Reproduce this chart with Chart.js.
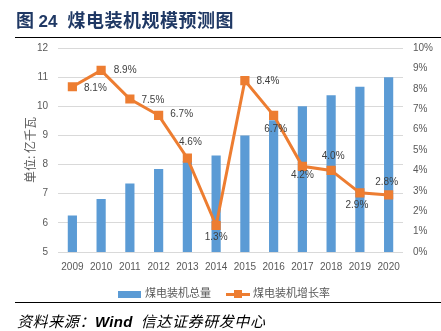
<!DOCTYPE html>
<html>
<head>
<meta charset="utf-8">
<script src="https://cdn.jsdelivr.net/npm/chart.js@4/dist/chart.umd.min.js"></script>
<style>
    html, body { margin: 0; padding: 0; background: #fff; }
    #wrap { position: relative; width: 441px; height: 331px; overflow: hidden; }
    #chart { position: absolute; left: 0; top: 0; }
    .title { position: absolute; left: 16px; top: 6px; font: bold 18px "Noto Sans CJK SC", sans-serif; color: #1f3864; letter-spacing: 0.5px; white-space: nowrap; }
    .title b { font-family: "Liberation Sans", sans-serif; font-size: 17px; letter-spacing: 0; margin: 0 10px 0 4px; }
    .rule { position: absolute; left: 15px; right: 0; height: 0; border-top: 1.5px solid #000; }
    .legend { position: absolute; top: 284px; font: 11px "Noto Sans CJK SC", sans-serif; color: #595959; white-space: nowrap; }
    .legend .bar { display: inline-block; width: 23px; height: 7px; background: #5b9bd5; vertical-align: middle; margin-right: 4px; }
    .legend .line { display: inline-block; position: relative; width: 24px; height: 3px; background: #ed7d31; vertical-align: middle; margin-right: 3px; }
    .legend .line i { position: absolute; left: 8px; top: -3px; width: 8px; height: 8px; background: #ed7d31; }
    .source { position: absolute; left: 17px; top: 310px; font: italic 15px "Noto Sans CJK SC", sans-serif; color: #000; letter-spacing: 0.6px; white-space: nowrap; }
    .source b { font-family: "Liberation Sans", sans-serif; font-weight: bold; letter-spacing: 0.3px; margin-right: 8px; }
</style>
</head>
<body>
<div id="wrap">
    <canvas id="chart" width="441" height="331"></canvas>
    <div class="title">图<b>24</b>煤电装机规模预测图</div>
    <div class="rule" style="top: 37px;"></div>
    <div class="legend" style="left: 118px;"><span class="bar"></span>煤电装机总量</div>
    <div class="legend" style="left: 226px;"><span class="line"><i></i></span>煤电装机增长率</div>
    <div class="rule" style="top: 302px; border-top-width: 1.3px;"></div>
    <div class="source">资料来源：<b>Wind</b>信达证券研发中心</div>
</div>
<script>
    const YEARS = ['2009', '2010', '2011', '2012', '2013', '2014', '2015', '2016', '2017', '2018', '2019', '2020'];
    // 装机总量（亿千瓦）
    const CAPACITY = [6.25, 6.82, 7.35, 7.85, 8.12, 8.31, 9.0, 9.52, 10.0, 10.38, 10.67, 11.0];
    // 装机增长率（%）
    const GROWTH = [8.1, 8.9, 7.5, 6.7, 4.6, 1.3, 8.4, 6.7, 4.2, 4.0, 2.9, 2.8];

    const CAPACITY_MIN = 5;
    const CAPACITY_MAX = 12;
    const GROWTH_MIN = 0;
    const GROWTH_MAX = 10;

    const BLUE = '#5b9bd5';
    const ORANGE = '#ed7d31';
    const GREY = '#595959';

    // where each growth label sits relative to its marker
    const LABEL_OFFSETS = [
        [23, 1], [24, 0], [23, 1], [23, -1], [3, -16], [0, 12],
        [23, 1], [2, 14], [0, 9], [2, -14], [-3, 12], [-2, -13],
    ];

    const growthLabels = {
        id: 'growthLabels',
        afterDatasetsDraw(chart) {
            const meta = chart.getDatasetMeta(1);
            const ctx = chart.ctx;
            ctx.save();
            ctx.font = '10px "Liberation Sans", sans-serif';
            ctx.fillStyle = '#404040';
            ctx.textAlign = 'center';
            ctx.textBaseline = 'middle';
            meta.data.forEach((pt, i) => {
                const [dx, dy] = LABEL_OFFSETS[i];
                ctx.fillText(GROWTH[i].toFixed(1) + '%', pt.x + dx, pt.y + dy);
            });
            ctx.restore();
        },
    };

    const tickFont = { family: '"Liberation Sans", sans-serif', size: 10 };

    new Chart(document.getElementById('chart'), {
        data: {
            labels: YEARS,
            datasets: [
                {
                    type: 'bar',
                    label: '煤电装机总量',
                    data: CAPACITY,
                    yAxisID: 'y',
                    backgroundColor: BLUE,
                    barPercentage: 0.32,
                    categoryPercentage: 1,
                    order: 1,
                },
                {
                    type: 'line',
                    label: '煤电装机增长率',
                    data: GROWTH,
                    yAxisID: 'y1',
                    borderColor: ORANGE,
                    backgroundColor: ORANGE,
                    borderWidth: 3,
                    pointStyle: 'rect',
                    pointRadius: 6.5,
                    pointBorderWidth: 0,
                    tension: 0,
                    order: 0,
                },
            ],
        },
        options: {
            responsive: false,
            animation: false,
            events: [],
            layout: { padding: { left: 18, right: 0, top: 48, bottom: 49 } },
            plugins: { legend: { display: false }, tooltip: { enabled: false } },
            scales: {
                x: {
                    grid: { display: false, drawTicks: false },
                    border: { display: false },
                    ticks: { color: GREY, font: tickFont, padding: 9, maxRotation: 0 },
                    afterFit(scale) { scale.height = 30; },
                },
                y: {
                    position: 'left',
                    min: CAPACITY_MIN,
                    max: CAPACITY_MAX,
                    grid: { color: '#d9d9d9', lineWidth: 1, drawTicks: false },
                    border: { display: false },
                    ticks: { stepSize: 1, color: GREY, font: tickFont, padding: 10 },
                    title: {
                        display: true,
                        text: '单位: 亿千瓦',
                        color: GREY,
                        font: { family: '"Noto Sans CJK SC", sans-serif', size: 12 },
                        padding: { top: 5, bottom: 0 },
                    },
                    afterFit(scale) { scale.width = 40; },
                },
                y1: {
                    position: 'right',
                    min: GROWTH_MIN,
                    max: GROWTH_MAX,
                    grid: { display: false, drawTicks: false },
                    border: { display: false },
                    ticks: { stepSize: 1, color: GREY, font: tickFont, padding: 10, callback: (v) => v + '%' },
                    afterFit(scale) { scale.width = 38; },
                },
            },
        },
        plugins: [growthLabels],
    });
</script>
</body>
</html>
